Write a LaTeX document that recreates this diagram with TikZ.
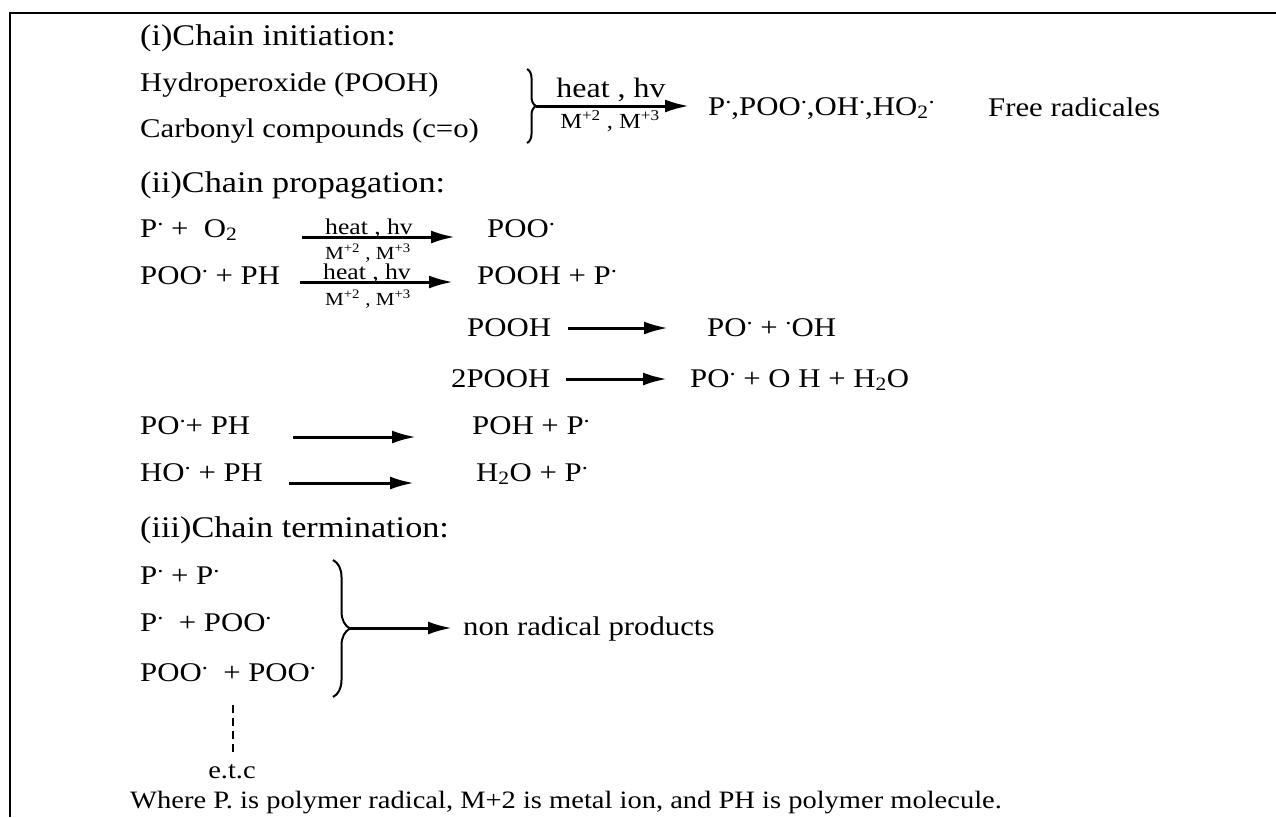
\documentclass[tikz,border=0pt]{standalone}
\usepackage{graphicx}
\usepackage{fontspec}
\setmainfont{Liberation Serif}[FakeStretch=1.14]
\usetikzlibrary{arrows.meta,decorations.pathreplacing}
\newcommand{\rd}{\raisebox{0.42em}{\scalebox{0.8}{.}}}
\tikzset{
  txt/.style={anchor=base west, inner sep=0pt, font=\fontsize{27}{31}\selectfont},
  ttl/.style={anchor=base west, inner sep=0pt, font=\fontsize{30}{34}\selectfont},
  biglbl/.style={anchor=base, inner sep=0pt, font=\fontsize{28}{32}\selectfont},
  bigsml/.style={anchor=base, inner sep=0pt, font=\fontsize{21.5}{25}\selectfont},
  lbl/.style={anchor=base, inner sep=0pt, font=\fontsize{22.5}{26}\selectfont},
  sml/.style={anchor=base, inner sep=0pt, font=\fontsize{18.5}{22}\selectfont},
  foot/.style={anchor=base west, inner sep=0pt, font=\fontsize{25}{29}\selectfont},
  rxn/.style={line width=3pt, -{Latex[length=24pt,width=13pt]}},
  brc/.style={line width=2pt, decorate, decoration={brace, amplitude=#1}},
  frame/.style={line width=2pt}
}
\begin{document}
\begin{tikzpicture}[x=1pt,y=-1pt]
\useasboundingbox (0,0) rectangle (1276,817);
% frame
\coordinate (fbl) at (10,817);
\coordinate (ftl) at (10,13);
\coordinate (ftr) at (1276,13);
\draw[frame] (fbl) -- (ftl) -- (ftr);

% (i) chain initiation
\node[ttl] (t1) at (140,45) {(i)Chain initiation:};
\node[txt] (hp) at (140,91) {Hydroperoxide (POOH)};
\node[txt] (cc) at (140,137) {Carbonyl compounds (c=o)};
\coordinate (b1t) at (527,69);
\coordinate (b1b) at (527,143);
\draw[brc=9pt] (b1t) -- (b1b);
\coordinate (a1s) at (536,106);
\coordinate (a1e) at (689,106);
\draw[rxn] (a1s) -- (a1e);
\node[biglbl] (h1) at (611,97) {heat , hv};
\node[bigsml] (m1) at (610,128) {M\textsuperscript{+2} , M\textsuperscript{+3}};
\node[txt] (fr) at (708,115) {P\rd,POO\rd,OH\rd,HO\textsubscript{2}\rd};
\node[txt] (frl) at (988,116) {Free radicales};

% (ii) chain propagation
\node[ttl] (t2) at (140,192) {(ii)Chain propagation:};
\node[txt] (r1l) at (140,237) {P\rd\ +\ \ O\textsubscript{2}};
\coordinate (r1s) at (302,237);
\coordinate (r1e) at (455,237);
\draw[rxn] (r1s) -- (r1e);
\node[lbl] (h2) at (369,234) {heat , hv};
\node[sml] (m2) at (368,259) {M\textsuperscript{+2} , M\textsuperscript{+3}};
\node[txt] (r1r) at (487,237) {POO\rd};

\node[txt] (r2l) at (140,284) {POO\rd\ + PH};
\coordinate (r2s) at (300,282);
\coordinate (r2e) at (453,282);
\draw[rxn] (r2s) -- (r2e);
\node[lbl] (h3) at (367,279) {heat , hv};
\node[sml] (m3) at (368,305) {M\textsuperscript{+2} , M\textsuperscript{+3}};
\node[txt] (r2r) at (477,284) {POOH + P\rd};

\node[txt] (r3l) at (467,336) {POOH};
\coordinate (r3s) at (568,328);
\coordinate (r3e) at (668,328);
\draw[rxn] (r3s) -- (r3e);
\node[txt] (r3r) at (707,336) {PO\rd\ + \rd OH};

\node[txt] (r4l) at (451,387) {2POOH};
\coordinate (r4s) at (566,379);
\coordinate (r4e) at (667,379);
\draw[rxn] (r4s) -- (r4e);
\node[txt] (r4r) at (690,387) {PO\rd\ + O H + H\textsubscript{2}O};

\node[txt] (r5l) at (140,434) {PO\rd+ PH};
\coordinate (r5s) at (293,437);
\coordinate (r5e) at (416,437);
\draw[rxn] (r5s) -- (r5e);
\node[txt] (r5r) at (472,434) {POH + P\rd};

\node[txt] (r6l) at (140,481) {HO\rd\ + PH};
\coordinate (r6s) at (289,483);
\coordinate (r6e) at (414,483);
\draw[rxn] (r6s) -- (r6e);
\node[txt] (r6r) at (476,481) {H\textsubscript{2}O + P\rd};

% (iii) chain termination
\node[ttl] (t3) at (140,537) {(iii)Chain termination:};
\node[txt] (k1) at (140,584) {P\rd\ + P\rd};
\node[txt] (k2) at (140,631) {P\rd\ \ + POO\rd};
\node[txt] (k3) at (140,681) {POO\rd\ \ + POO\rd};
\coordinate (b2t) at (333,560);
\coordinate (b2b) at (333,697);
\draw[brc=17pt] (b2t) -- (b2b);
\coordinate (a7s) at (350,628);
\coordinate (a7e) at (452,628);
\draw[rxn] (a7s) -- (a7e);
\node[txt] (np) at (463,635) {non radical products};
\coordinate (d1) at (233,705);
\coordinate (d2) at (233,752);
\draw[line width=2pt, dash pattern=on 8pt off 5pt] (d1) -- (d2);
\node[anchor=base, inner sep=0pt, font=\fontsize{25}{29}\selectfont] (etc) at (232,778) {e.t.c};
\node[foot] (ft) at (130,808) {Where P. is polymer radical, M+2 is metal ion, and PH is polymer molecule.};
\end{tikzpicture}
\end{document}
